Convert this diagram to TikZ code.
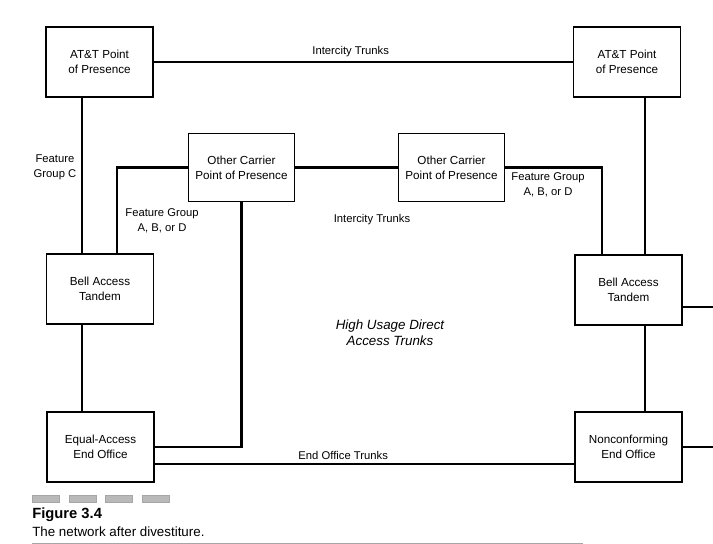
\documentclass[tikz,border=0pt]{standalone}
\usepackage{fontspec}
\setmainfont{Liberation Sans}
\usetikzlibrary{positioning,calc}
\tikzset{
  office/.style = {draw, line width=0.8pt, align=center, minimum width=2.675cm,
                   minimum height=1.75cm, inner sep=1pt, font=\fontsize{8.3}{10.5}\selectfont},
  trunk/.style  = {line width=1.8pt},
  tag/.style    = {align=center, inner sep=1pt, font=\fontsize{8}{10.5}\selectfont},
  tick/.style   = {fill=gray!55, draw=gray!70, line width=0.3pt},
}

\begin{document}
\begin{tikzpicture}[x=0.025cm, y=-0.025cm]
  \useasboundingbox (0,0) rectangle (713,544);
  \node[office] (att1) at (99.5,62)  {AT\&T Point\\of Presence};
  \node[office] (att2) at (627,62)   {AT\&T Point\\of Presence};
  \node[office, minimum width=2.63cm, minimum height=1.72cm] (oc1) at (241.5,167.5) {Other Carrier\\Point of Presence};
  \node[office, minimum width=2.63cm, minimum height=1.72cm] (oc2) at (451.5,167.5) {Other Carrier\\Point of Presence};
  \node[office] (bat1) at (100,289)  {Bell Access\\Tandem};
  \node[office] (bat2) at (628.5,290) {Bell Access\\Tandem};
  \node[office] (eo1)  at (100.5,447) {Equal-Access\\End Office};
  \node[office] (eo2)  at (628.5,447) {Nonconforming\\End Office};
  \coordinate (fgcTop) at (82,97);
  \coordinate (fg1Bot) at (117,255);
  \coordinate (fg2Bot) at (602,255);
  \coordinate (attTop) at (645,97);
  \coordinate (eotL)   at (154,464);
  \coordinate (out1)   at (713,307);
  \coordinate (out2)   at (713,447);

  \draw[trunk] (att1) -- node[tag, above=2pt, pos=0.47] (ict1) {Intercity Trunks} (att2);
  \draw[trunk] (oc1) -- (oc2);
  \node[tag] (ict2) at (372,220) {Intercity Trunks};
  \draw[trunk] (fgcTop) -- (fgcTop |- bat1.north);
  \draw[trunk] (fgcTop |- bat1.south) -- (fgcTop |- eo1.north);
  \draw[trunk] (oc1.west) -| (fg1Bot);
  \draw[trunk] (oc1.south) |- (eo1.east);
  \draw[trunk] (eotL) -- node[tag, above=1pt, pos=0.45] (eot) {End Office Trunks} (eotL -| eo2.west);
  \draw[trunk] (oc2.east) -| (fg2Bot);
  \draw[trunk] (attTop) -- (attTop |- bat2.north);
  \draw[trunk] (attTop |- bat2.south) -- (attTop |- eo2.north);
  \draw[trunk] (out1 -| bat2.east) -- (out1);
  \draw[trunk] (eo2.east) -- (out2);

  \node[tag] (fgc)  at (55,167)  {Feature\\Group C};
  \node[tag] (fg1)  at (162,221) {Feature Group\\A, B, or D};
  \node[tag] (fg2)  at (548,185) {Feature Group\\A, B, or D};
  \node[tag, font=\itshape\fontsize{9.5}{11.5}\selectfont] (hud) at (390,333) {High Usage Direct\\Access Trunks};

  \foreach \x in {32,69,105,142}
    \draw[tick] (\x,495) rectangle ++(27.5,7);
  \node[anchor=west, inner sep=0pt, font=\bfseries\fontsize{10.5}{12}\selectfont] (fig) at (32,515) {Figure 3.4};
  \node[anchor=west, inner sep=0pt, font=\fontsize{9.5}{12}\selectfont] (cap) at (32,532) {The network after divestiture.};
  \draw[gray!70, line width=0.6pt] (32,543) -- (583,543);
\end{tikzpicture}
\end{document}
